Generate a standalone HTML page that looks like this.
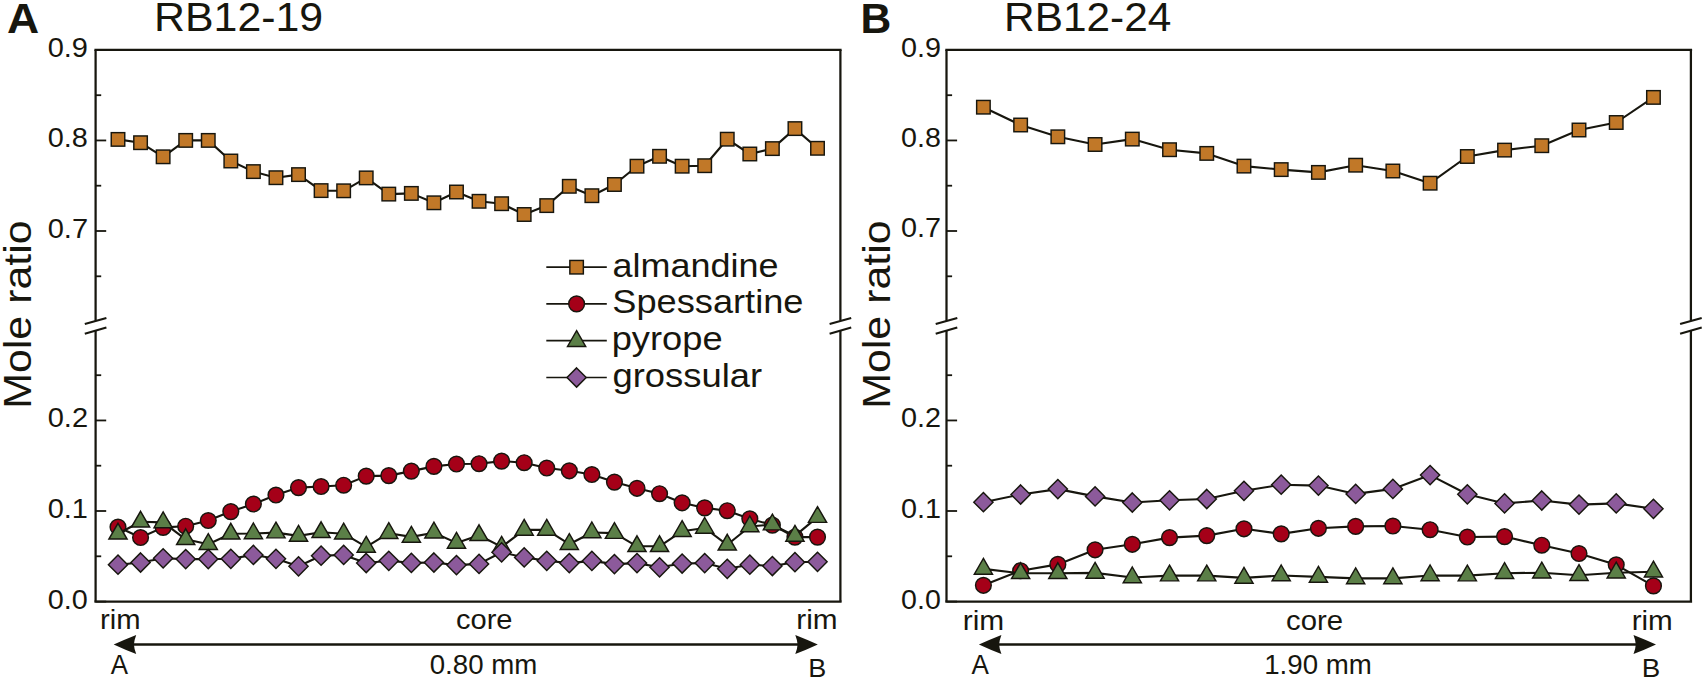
<!DOCTYPE html>
<html lang="en"><head><meta charset="utf-8"><title>Garnet compositional profiles</title>
<style>html,body{margin:0;padding:0;background:#fff}body{width:1705px;height:679px;overflow:hidden}svg{display:block}</style>
</head><body>
<svg width="1705" height="679" viewBox="0 0 1705 679" font-family="'Liberation Sans', sans-serif" fill="#17160e">
<rect width="1705" height="679" fill="#fff"/>
<g stroke="#17160e" stroke-width="2.25" fill="none">
<path d="M94.39999999999999,49.9 H841.6"/>
<path d="M94.39999999999999,601.6 H841.6"/>
<path d="M95.6,49.9 V320.8"/>
<path d="M95.6,330.7 V601.6"/>
<path d="M840.4,49.9 V320.8"/>
<path d="M840.4,330.7 V601.6"/>
</g>
<g stroke="#17160e" stroke-width="2.1" fill="none">
<path d="M84.8,324.1 L106.39999999999999,317.9"/>
<path d="M84.8,333.70000000000005 L106.39999999999999,327.5"/>
<path d="M829.6,324.1 L851.1999999999999,317.9"/>
<path d="M829.6,333.70000000000005 L851.1999999999999,327.5"/>
</g>
<g stroke="#17160e" stroke-width="1.8" fill="none">
<path d="M95.6,49.9 h10.6"/>
<path d="M95.6,140.45 h10.6"/>
<path d="M95.6,231.0 h10.6"/>
<path d="M95.6,420.45 h10.6"/>
<path d="M95.6,511.0 h10.6"/>
<path d="M95.6,601.6 h10.6"/>
<path d="M95.6,95.2 h5.6"/>
<path d="M95.6,185.7 h5.6"/>
<path d="M95.6,276.3 h5.6"/>
<path d="M95.6,375.2 h5.6"/>
<path d="M95.6,465.7 h5.6"/>
<path d="M95.6,556.3 h5.6"/>
</g>
<text transform="translate(47.67,56.80) scale(1.0318,1)" font-size="28.1">0.9</text>
<text transform="translate(47.67,147.35) scale(1.0287,1)" font-size="28.1">0.8</text>
<text transform="translate(47.66,238.00) scale(1.0341,1)" font-size="28.1">0.7</text>
<text transform="translate(47.66,427.35) scale(1.0341,1)" font-size="28.1">0.2</text>
<text transform="translate(47.67,517.90) scale(1.0330,1)" font-size="28.1">0.1</text>
<text transform="translate(47.67,608.60) scale(1.0253,1)" font-size="28.1">0.0</text>
<polyline points="118.00,139.40 140.56,142.70 163.13,156.80 185.69,140.40 208.26,140.40 230.82,161.00 253.39,171.60 275.96,177.70 298.52,174.60 321.09,190.60 343.65,190.80 366.22,177.90 388.78,194.10 411.35,193.40 433.91,202.80 456.48,192.00 479.04,201.30 501.61,203.70 524.17,214.50 546.74,205.60 569.30,186.30 591.87,195.70 614.43,184.50 637.00,166.20 659.56,156.30 682.12,166.20 704.69,165.70 727.25,139.20 749.82,154.00 772.38,148.60 794.95,128.60 817.51,148.30" fill="none" stroke="#17160e" stroke-width="2.1" stroke-linejoin="round"/>
<rect x="111.25" y="132.65" width="13.5" height="13.5" fill="#c17828" stroke="#17160e" stroke-width="1.45"/>
<rect x="133.81" y="135.95" width="13.5" height="13.5" fill="#c17828" stroke="#17160e" stroke-width="1.45"/>
<rect x="156.38" y="150.05" width="13.5" height="13.5" fill="#c17828" stroke="#17160e" stroke-width="1.45"/>
<rect x="178.94" y="133.65" width="13.5" height="13.5" fill="#c17828" stroke="#17160e" stroke-width="1.45"/>
<rect x="201.51" y="133.65" width="13.5" height="13.5" fill="#c17828" stroke="#17160e" stroke-width="1.45"/>
<rect x="224.07" y="154.25" width="13.5" height="13.5" fill="#c17828" stroke="#17160e" stroke-width="1.45"/>
<rect x="246.64" y="164.85" width="13.5" height="13.5" fill="#c17828" stroke="#17160e" stroke-width="1.45"/>
<rect x="269.21" y="170.95" width="13.5" height="13.5" fill="#c17828" stroke="#17160e" stroke-width="1.45"/>
<rect x="291.77" y="167.85" width="13.5" height="13.5" fill="#c17828" stroke="#17160e" stroke-width="1.45"/>
<rect x="314.34" y="183.85" width="13.5" height="13.5" fill="#c17828" stroke="#17160e" stroke-width="1.45"/>
<rect x="336.90" y="184.05" width="13.5" height="13.5" fill="#c17828" stroke="#17160e" stroke-width="1.45"/>
<rect x="359.47" y="171.15" width="13.5" height="13.5" fill="#c17828" stroke="#17160e" stroke-width="1.45"/>
<rect x="382.03" y="187.35" width="13.5" height="13.5" fill="#c17828" stroke="#17160e" stroke-width="1.45"/>
<rect x="404.60" y="186.65" width="13.5" height="13.5" fill="#c17828" stroke="#17160e" stroke-width="1.45"/>
<rect x="427.16" y="196.05" width="13.5" height="13.5" fill="#c17828" stroke="#17160e" stroke-width="1.45"/>
<rect x="449.73" y="185.25" width="13.5" height="13.5" fill="#c17828" stroke="#17160e" stroke-width="1.45"/>
<rect x="472.29" y="194.55" width="13.5" height="13.5" fill="#c17828" stroke="#17160e" stroke-width="1.45"/>
<rect x="494.86" y="196.95" width="13.5" height="13.5" fill="#c17828" stroke="#17160e" stroke-width="1.45"/>
<rect x="517.42" y="207.75" width="13.5" height="13.5" fill="#c17828" stroke="#17160e" stroke-width="1.45"/>
<rect x="539.99" y="198.85" width="13.5" height="13.5" fill="#c17828" stroke="#17160e" stroke-width="1.45"/>
<rect x="562.55" y="179.55" width="13.5" height="13.5" fill="#c17828" stroke="#17160e" stroke-width="1.45"/>
<rect x="585.12" y="188.95" width="13.5" height="13.5" fill="#c17828" stroke="#17160e" stroke-width="1.45"/>
<rect x="607.68" y="177.75" width="13.5" height="13.5" fill="#c17828" stroke="#17160e" stroke-width="1.45"/>
<rect x="630.25" y="159.45" width="13.5" height="13.5" fill="#c17828" stroke="#17160e" stroke-width="1.45"/>
<rect x="652.81" y="149.55" width="13.5" height="13.5" fill="#c17828" stroke="#17160e" stroke-width="1.45"/>
<rect x="675.38" y="159.45" width="13.5" height="13.5" fill="#c17828" stroke="#17160e" stroke-width="1.45"/>
<rect x="697.94" y="158.95" width="13.5" height="13.5" fill="#c17828" stroke="#17160e" stroke-width="1.45"/>
<rect x="720.50" y="132.45" width="13.5" height="13.5" fill="#c17828" stroke="#17160e" stroke-width="1.45"/>
<rect x="743.07" y="147.25" width="13.5" height="13.5" fill="#c17828" stroke="#17160e" stroke-width="1.45"/>
<rect x="765.63" y="141.85" width="13.5" height="13.5" fill="#c17828" stroke="#17160e" stroke-width="1.45"/>
<rect x="788.20" y="121.85" width="13.5" height="13.5" fill="#c17828" stroke="#17160e" stroke-width="1.45"/>
<rect x="810.76" y="141.55" width="13.5" height="13.5" fill="#c17828" stroke="#17160e" stroke-width="1.45"/>
<polyline points="118.00,527.00 140.56,537.50 163.13,527.40 185.69,526.20 208.26,520.50 230.82,511.60 253.39,504.00 275.96,495.00 298.52,487.60 321.09,486.50 343.65,485.20 366.22,476.10 388.78,475.60 411.35,471.10 433.91,466.40 456.48,464.00 479.04,463.70 501.61,461.10 524.17,462.70 546.74,468.00 569.30,470.80 591.87,474.50 614.43,482.10 637.00,488.30 659.56,493.70 682.12,502.80 704.69,507.90 727.25,510.70 749.82,518.80 772.38,525.10 794.95,537.10 817.51,537.10" fill="none" stroke="#17160e" stroke-width="2.1" stroke-linejoin="round"/>
<circle cx="118.00" cy="527.00" r="7.85" fill="#a50018" stroke="#17160e" stroke-width="1.45"/>
<circle cx="140.56" cy="537.50" r="7.85" fill="#a50018" stroke="#17160e" stroke-width="1.45"/>
<circle cx="163.13" cy="527.40" r="7.85" fill="#a50018" stroke="#17160e" stroke-width="1.45"/>
<circle cx="185.69" cy="526.20" r="7.85" fill="#a50018" stroke="#17160e" stroke-width="1.45"/>
<circle cx="208.26" cy="520.50" r="7.85" fill="#a50018" stroke="#17160e" stroke-width="1.45"/>
<circle cx="230.82" cy="511.60" r="7.85" fill="#a50018" stroke="#17160e" stroke-width="1.45"/>
<circle cx="253.39" cy="504.00" r="7.85" fill="#a50018" stroke="#17160e" stroke-width="1.45"/>
<circle cx="275.96" cy="495.00" r="7.85" fill="#a50018" stroke="#17160e" stroke-width="1.45"/>
<circle cx="298.52" cy="487.60" r="7.85" fill="#a50018" stroke="#17160e" stroke-width="1.45"/>
<circle cx="321.09" cy="486.50" r="7.85" fill="#a50018" stroke="#17160e" stroke-width="1.45"/>
<circle cx="343.65" cy="485.20" r="7.85" fill="#a50018" stroke="#17160e" stroke-width="1.45"/>
<circle cx="366.22" cy="476.10" r="7.85" fill="#a50018" stroke="#17160e" stroke-width="1.45"/>
<circle cx="388.78" cy="475.60" r="7.85" fill="#a50018" stroke="#17160e" stroke-width="1.45"/>
<circle cx="411.35" cy="471.10" r="7.85" fill="#a50018" stroke="#17160e" stroke-width="1.45"/>
<circle cx="433.91" cy="466.40" r="7.85" fill="#a50018" stroke="#17160e" stroke-width="1.45"/>
<circle cx="456.48" cy="464.00" r="7.85" fill="#a50018" stroke="#17160e" stroke-width="1.45"/>
<circle cx="479.04" cy="463.70" r="7.85" fill="#a50018" stroke="#17160e" stroke-width="1.45"/>
<circle cx="501.61" cy="461.10" r="7.85" fill="#a50018" stroke="#17160e" stroke-width="1.45"/>
<circle cx="524.17" cy="462.70" r="7.85" fill="#a50018" stroke="#17160e" stroke-width="1.45"/>
<circle cx="546.74" cy="468.00" r="7.85" fill="#a50018" stroke="#17160e" stroke-width="1.45"/>
<circle cx="569.30" cy="470.80" r="7.85" fill="#a50018" stroke="#17160e" stroke-width="1.45"/>
<circle cx="591.87" cy="474.50" r="7.85" fill="#a50018" stroke="#17160e" stroke-width="1.45"/>
<circle cx="614.43" cy="482.10" r="7.85" fill="#a50018" stroke="#17160e" stroke-width="1.45"/>
<circle cx="637.00" cy="488.30" r="7.85" fill="#a50018" stroke="#17160e" stroke-width="1.45"/>
<circle cx="659.56" cy="493.70" r="7.85" fill="#a50018" stroke="#17160e" stroke-width="1.45"/>
<circle cx="682.12" cy="502.80" r="7.85" fill="#a50018" stroke="#17160e" stroke-width="1.45"/>
<circle cx="704.69" cy="507.90" r="7.85" fill="#a50018" stroke="#17160e" stroke-width="1.45"/>
<circle cx="727.25" cy="510.70" r="7.85" fill="#a50018" stroke="#17160e" stroke-width="1.45"/>
<circle cx="749.82" cy="518.80" r="7.85" fill="#a50018" stroke="#17160e" stroke-width="1.45"/>
<circle cx="772.38" cy="525.10" r="7.85" fill="#a50018" stroke="#17160e" stroke-width="1.45"/>
<circle cx="794.95" cy="537.10" r="7.85" fill="#a50018" stroke="#17160e" stroke-width="1.45"/>
<circle cx="817.51" cy="537.10" r="7.85" fill="#a50018" stroke="#17160e" stroke-width="1.45"/>
<polyline points="118.00,533.80 140.56,521.80 163.13,522.40 185.69,539.30 208.26,544.20 230.82,533.80 253.39,533.50 275.96,532.60 298.52,535.90 321.09,532.30 343.65,533.70 366.22,546.90 388.78,533.20 411.35,536.90 433.91,532.70 456.48,542.90 479.04,535.30 501.61,546.90 524.17,529.90 546.74,529.90 569.30,544.20 591.87,532.50 614.43,533.10 637.00,546.30 659.56,546.30 682.12,531.20 704.69,528.00 727.25,544.80 749.82,526.50 772.38,524.60 794.95,535.90 817.51,517.10" fill="none" stroke="#17160e" stroke-width="2.1" stroke-linejoin="round"/>
<polygon points="118.00,523.30 127.09,539.05 108.91,539.05" fill="#5b7f47" stroke="#17160e" stroke-width="1.45"/>
<polygon points="140.56,511.30 149.66,527.05 131.47,527.05" fill="#5b7f47" stroke="#17160e" stroke-width="1.45"/>
<polygon points="163.13,511.90 172.22,527.65 154.04,527.65" fill="#5b7f47" stroke="#17160e" stroke-width="1.45"/>
<polygon points="185.69,528.80 194.79,544.55 176.60,544.55" fill="#5b7f47" stroke="#17160e" stroke-width="1.45"/>
<polygon points="208.26,533.70 217.35,549.45 199.17,549.45" fill="#5b7f47" stroke="#17160e" stroke-width="1.45"/>
<polygon points="230.82,523.30 239.92,539.05 221.73,539.05" fill="#5b7f47" stroke="#17160e" stroke-width="1.45"/>
<polygon points="253.39,523.00 262.48,538.75 244.30,538.75" fill="#5b7f47" stroke="#17160e" stroke-width="1.45"/>
<polygon points="275.96,522.10 285.05,537.85 266.86,537.85" fill="#5b7f47" stroke="#17160e" stroke-width="1.45"/>
<polygon points="298.52,525.40 307.61,541.15 289.43,541.15" fill="#5b7f47" stroke="#17160e" stroke-width="1.45"/>
<polygon points="321.09,521.80 330.18,537.55 311.99,537.55" fill="#5b7f47" stroke="#17160e" stroke-width="1.45"/>
<polygon points="343.65,523.20 352.74,538.95 334.56,538.95" fill="#5b7f47" stroke="#17160e" stroke-width="1.45"/>
<polygon points="366.22,536.40 375.31,552.15 357.12,552.15" fill="#5b7f47" stroke="#17160e" stroke-width="1.45"/>
<polygon points="388.78,522.70 397.87,538.45 379.69,538.45" fill="#5b7f47" stroke="#17160e" stroke-width="1.45"/>
<polygon points="411.35,526.40 420.44,542.15 402.25,542.15" fill="#5b7f47" stroke="#17160e" stroke-width="1.45"/>
<polygon points="433.91,522.20 443.00,537.95 424.82,537.95" fill="#5b7f47" stroke="#17160e" stroke-width="1.45"/>
<polygon points="456.48,532.40 465.57,548.15 447.38,548.15" fill="#5b7f47" stroke="#17160e" stroke-width="1.45"/>
<polygon points="479.04,524.80 488.13,540.55 469.95,540.55" fill="#5b7f47" stroke="#17160e" stroke-width="1.45"/>
<polygon points="501.61,536.40 510.70,552.15 492.51,552.15" fill="#5b7f47" stroke="#17160e" stroke-width="1.45"/>
<polygon points="524.17,519.40 533.26,535.15 515.08,535.15" fill="#5b7f47" stroke="#17160e" stroke-width="1.45"/>
<polygon points="546.74,519.40 555.83,535.15 537.64,535.15" fill="#5b7f47" stroke="#17160e" stroke-width="1.45"/>
<polygon points="569.30,533.70 578.39,549.45 560.21,549.45" fill="#5b7f47" stroke="#17160e" stroke-width="1.45"/>
<polygon points="591.87,522.00 600.96,537.75 582.77,537.75" fill="#5b7f47" stroke="#17160e" stroke-width="1.45"/>
<polygon points="614.43,522.60 623.52,538.35 605.34,538.35" fill="#5b7f47" stroke="#17160e" stroke-width="1.45"/>
<polygon points="637.00,535.80 646.09,551.55 627.90,551.55" fill="#5b7f47" stroke="#17160e" stroke-width="1.45"/>
<polygon points="659.56,535.80 668.65,551.55 650.47,551.55" fill="#5b7f47" stroke="#17160e" stroke-width="1.45"/>
<polygon points="682.12,520.70 691.22,536.45 673.03,536.45" fill="#5b7f47" stroke="#17160e" stroke-width="1.45"/>
<polygon points="704.69,517.50 713.78,533.25 695.60,533.25" fill="#5b7f47" stroke="#17160e" stroke-width="1.45"/>
<polygon points="727.25,534.30 736.35,550.05 718.16,550.05" fill="#5b7f47" stroke="#17160e" stroke-width="1.45"/>
<polygon points="749.82,516.00 758.91,531.75 740.73,531.75" fill="#5b7f47" stroke="#17160e" stroke-width="1.45"/>
<polygon points="772.38,514.10 781.48,529.85 763.29,529.85" fill="#5b7f47" stroke="#17160e" stroke-width="1.45"/>
<polygon points="794.95,525.40 804.04,541.15 785.86,541.15" fill="#5b7f47" stroke="#17160e" stroke-width="1.45"/>
<polygon points="817.51,506.60 826.61,522.35 808.42,522.35" fill="#5b7f47" stroke="#17160e" stroke-width="1.45"/>
<polyline points="118.00,564.70 140.56,562.50 163.13,558.30 185.69,559.10 208.26,559.10 230.82,558.80 253.39,554.90 275.96,558.80 298.52,566.30 321.09,555.70 343.65,554.90 366.22,563.00 388.78,560.80 411.35,562.90 433.91,562.50 456.48,565.10 479.04,563.90 501.61,552.30 524.17,557.40 546.74,560.80 569.30,563.10 591.87,560.90 614.43,564.10 637.00,563.10 659.56,567.30 682.12,563.50 704.69,563.10 727.25,568.80 749.82,564.70 772.38,566.00 794.95,562.20 817.51,561.80" fill="none" stroke="#17160e" stroke-width="2.1" stroke-linejoin="round"/>
<polygon points="118.00,555.10 127.60,564.70 118.00,574.30 108.40,564.70" fill="#8c5a9b" stroke="#17160e" stroke-width="1.45"/>
<polygon points="140.56,552.90 150.16,562.50 140.56,572.10 130.97,562.50" fill="#8c5a9b" stroke="#17160e" stroke-width="1.45"/>
<polygon points="163.13,548.70 172.73,558.30 163.13,567.90 153.53,558.30" fill="#8c5a9b" stroke="#17160e" stroke-width="1.45"/>
<polygon points="185.69,549.50 195.29,559.10 185.69,568.70 176.09,559.10" fill="#8c5a9b" stroke="#17160e" stroke-width="1.45"/>
<polygon points="208.26,549.50 217.86,559.10 208.26,568.70 198.66,559.10" fill="#8c5a9b" stroke="#17160e" stroke-width="1.45"/>
<polygon points="230.82,549.20 240.42,558.80 230.82,568.40 221.22,558.80" fill="#8c5a9b" stroke="#17160e" stroke-width="1.45"/>
<polygon points="253.39,545.30 262.99,554.90 253.39,564.50 243.79,554.90" fill="#8c5a9b" stroke="#17160e" stroke-width="1.45"/>
<polygon points="275.96,549.20 285.56,558.80 275.96,568.40 266.36,558.80" fill="#8c5a9b" stroke="#17160e" stroke-width="1.45"/>
<polygon points="298.52,556.70 308.12,566.30 298.52,575.90 288.92,566.30" fill="#8c5a9b" stroke="#17160e" stroke-width="1.45"/>
<polygon points="321.09,546.10 330.69,555.70 321.09,565.30 311.49,555.70" fill="#8c5a9b" stroke="#17160e" stroke-width="1.45"/>
<polygon points="343.65,545.30 353.25,554.90 343.65,564.50 334.05,554.90" fill="#8c5a9b" stroke="#17160e" stroke-width="1.45"/>
<polygon points="366.22,553.40 375.82,563.00 366.22,572.60 356.62,563.00" fill="#8c5a9b" stroke="#17160e" stroke-width="1.45"/>
<polygon points="388.78,551.20 398.38,560.80 388.78,570.40 379.18,560.80" fill="#8c5a9b" stroke="#17160e" stroke-width="1.45"/>
<polygon points="411.35,553.30 420.95,562.90 411.35,572.50 401.75,562.90" fill="#8c5a9b" stroke="#17160e" stroke-width="1.45"/>
<polygon points="433.91,552.90 443.51,562.50 433.91,572.10 424.31,562.50" fill="#8c5a9b" stroke="#17160e" stroke-width="1.45"/>
<polygon points="456.48,555.50 466.08,565.10 456.48,574.70 446.88,565.10" fill="#8c5a9b" stroke="#17160e" stroke-width="1.45"/>
<polygon points="479.04,554.30 488.64,563.90 479.04,573.50 469.44,563.90" fill="#8c5a9b" stroke="#17160e" stroke-width="1.45"/>
<polygon points="501.61,542.70 511.21,552.30 501.61,561.90 492.00,552.30" fill="#8c5a9b" stroke="#17160e" stroke-width="1.45"/>
<polygon points="524.17,547.80 533.77,557.40 524.17,567.00 514.57,557.40" fill="#8c5a9b" stroke="#17160e" stroke-width="1.45"/>
<polygon points="546.74,551.20 556.34,560.80 546.74,570.40 537.13,560.80" fill="#8c5a9b" stroke="#17160e" stroke-width="1.45"/>
<polygon points="569.30,553.50 578.90,563.10 569.30,572.70 559.70,563.10" fill="#8c5a9b" stroke="#17160e" stroke-width="1.45"/>
<polygon points="591.87,551.30 601.47,560.90 591.87,570.50 582.26,560.90" fill="#8c5a9b" stroke="#17160e" stroke-width="1.45"/>
<polygon points="614.43,554.50 624.03,564.10 614.43,573.70 604.83,564.10" fill="#8c5a9b" stroke="#17160e" stroke-width="1.45"/>
<polygon points="637.00,553.50 646.60,563.10 637.00,572.70 627.39,563.10" fill="#8c5a9b" stroke="#17160e" stroke-width="1.45"/>
<polygon points="659.56,557.70 669.16,567.30 659.56,576.90 649.96,567.30" fill="#8c5a9b" stroke="#17160e" stroke-width="1.45"/>
<polygon points="682.12,553.90 691.73,563.50 682.12,573.10 672.52,563.50" fill="#8c5a9b" stroke="#17160e" stroke-width="1.45"/>
<polygon points="704.69,553.50 714.29,563.10 704.69,572.70 695.09,563.10" fill="#8c5a9b" stroke="#17160e" stroke-width="1.45"/>
<polygon points="727.25,559.20 736.86,568.80 727.25,578.40 717.65,568.80" fill="#8c5a9b" stroke="#17160e" stroke-width="1.45"/>
<polygon points="749.82,555.10 759.42,564.70 749.82,574.30 740.22,564.70" fill="#8c5a9b" stroke="#17160e" stroke-width="1.45"/>
<polygon points="772.38,556.40 781.99,566.00 772.38,575.60 762.78,566.00" fill="#8c5a9b" stroke="#17160e" stroke-width="1.45"/>
<polygon points="794.95,552.60 804.55,562.20 794.95,571.80 785.35,562.20" fill="#8c5a9b" stroke="#17160e" stroke-width="1.45"/>
<polygon points="817.51,552.20 827.12,561.80 817.51,571.40 807.91,561.80" fill="#8c5a9b" stroke="#17160e" stroke-width="1.45"/>
<path d="M546.3,267.2 H606.8" stroke="#17160e" stroke-width="1.7" fill="none"/>
<rect x="569.85" y="260.45" width="13.5" height="13.5" fill="#c17828" stroke="#17160e" stroke-width="1.45"/>
<text transform="translate(612.47,276.60) scale(1.0734,1)" font-size="33.5">almandine</text>
<path d="M546.3,303.9 H606.8" stroke="#17160e" stroke-width="1.7" fill="none"/>
<circle cx="576.60" cy="303.90" r="7.85" fill="#a50018" stroke="#17160e" stroke-width="1.45"/>
<text transform="translate(612.36,312.70) scale(1.0805,1)" font-size="33.5">Spessartine</text>
<path d="M546.3,340.7 H606.8" stroke="#17160e" stroke-width="1.7" fill="none"/>
<polygon points="576.60,330.70 585.69,346.45 567.51,346.45" fill="#5b7f47" stroke="#17160e" stroke-width="1.45"/>
<text transform="translate(611.66,350.30) scale(1.0832,1)" font-size="33.5">pyrope</text>
<path d="M546.3,377.5 H606.8" stroke="#17160e" stroke-width="1.7" fill="none"/>
<polygon points="576.60,367.90 586.20,377.50 576.60,387.10 567.00,377.50" fill="#8c5a9b" stroke="#17160e" stroke-width="1.45"/>
<text transform="translate(612.47,387.40) scale(1.0860,1)" font-size="33.5">grossular</text>
<path d="M121.7,644.5 H809.8" stroke="#17160e" stroke-width="2.5" fill="none"/>
<path d="M113.7,644.5 Q125.2,639.2 136.2,634.9 Q134.1,640.5 133.9,644.5 Q134.1,648.5 136.2,654.1 Q125.2,649.8 113.7,644.5 Z" fill="#17160e"/>
<path d="M817.8,644.5 Q806.3,639.2 795.3,634.9 Q797.4,640.5 797.5999999999999,644.5 Q797.4,648.5 795.3,654.1 Q806.3,649.8 817.8,644.5 Z" fill="#17160e"/>
<text transform="translate(100.06,628.70) scale(1.0904,1)" font-size="26.8">rim</text>
<text transform="translate(796.22,628.70) scale(1.1112,1)" font-size="26.8">rim</text>
<text transform="translate(455.96,628.70) scale(1.0663,1)" font-size="27.3">core</text>
<text transform="translate(429.72,673.60) scale(1.0095,1)" font-size="27.4">0.80 mm</text>
<text transform="translate(110.65,673.50) scale(0.9679,1)" font-size="26.8">A</text>
<text transform="translate(808.18,676.80) scale(1.0171,1)" font-size="26.6">B</text>
<text transform="translate(6.99,33.10) scale(1.0462,1)" font-size="42.6" font-weight="bold">A</text>
<text transform="translate(154.08,31.20) scale(1.0582,1)" font-size="40.5">RB12-19</text>
<text transform="translate(31.40,408.82) rotate(-90) scale(1.0870,1)" font-size="39.5">Mole ratio</text>
<g stroke="#17160e" stroke-width="2.25" fill="none">
<path d="M945.3,49.9 H1692.1000000000001"/>
<path d="M945.3,601.6 H1692.1000000000001"/>
<path d="M946.5,49.9 V320.8"/>
<path d="M946.5,330.7 V601.6"/>
<path d="M1690.9,49.9 V320.8"/>
<path d="M1690.9,330.7 V601.6"/>
</g>
<g stroke="#17160e" stroke-width="2.1" fill="none">
<path d="M935.7,324.1 L957.3,317.9"/>
<path d="M935.7,333.70000000000005 L957.3,327.5"/>
<path d="M1680.1000000000001,324.1 L1701.7,317.9"/>
<path d="M1680.1000000000001,333.70000000000005 L1701.7,327.5"/>
</g>
<g stroke="#17160e" stroke-width="1.8" fill="none">
<path d="M946.5,49.9 h10.6"/>
<path d="M946.5,140.45 h10.6"/>
<path d="M946.5,231.0 h10.6"/>
<path d="M946.5,420.45 h10.6"/>
<path d="M946.5,511.0 h10.6"/>
<path d="M946.5,601.6 h10.6"/>
<path d="M946.5,95.2 h5.6"/>
<path d="M946.5,185.7 h5.6"/>
<path d="M946.5,276.3 h5.6"/>
<path d="M946.5,375.2 h5.6"/>
<path d="M946.5,465.7 h5.6"/>
<path d="M946.5,556.3 h5.6"/>
</g>
<text transform="translate(901.08,56.70) scale(1.0236,1)" font-size="28.1">0.9</text>
<text transform="translate(901.08,147.25) scale(1.0206,1)" font-size="28.1">0.8</text>
<text transform="translate(901.07,237.40) scale(1.0259,1)" font-size="28.1">0.7</text>
<text transform="translate(901.07,427.25) scale(1.0259,1)" font-size="28.1">0.2</text>
<text transform="translate(901.08,517.80) scale(1.0248,1)" font-size="28.1">0.1</text>
<text transform="translate(901.08,608.60) scale(1.0172,1)" font-size="28.1">0.0</text>
<polyline points="983.40,107.20 1020.62,125.00 1057.85,136.80 1095.08,144.50 1132.30,139.10 1169.53,149.70 1206.75,153.40 1243.97,166.10 1281.20,169.60 1318.42,172.40 1355.65,165.20 1392.88,171.00 1430.10,183.20 1467.33,156.50 1504.55,150.10 1541.78,145.70 1579.00,130.00 1616.22,122.50 1653.45,97.40" fill="none" stroke="#17160e" stroke-width="2.1" stroke-linejoin="round"/>
<rect x="976.65" y="100.45" width="13.5" height="13.5" fill="#c17828" stroke="#17160e" stroke-width="1.45"/>
<rect x="1013.88" y="118.25" width="13.5" height="13.5" fill="#c17828" stroke="#17160e" stroke-width="1.45"/>
<rect x="1051.10" y="130.05" width="13.5" height="13.5" fill="#c17828" stroke="#17160e" stroke-width="1.45"/>
<rect x="1088.33" y="137.75" width="13.5" height="13.5" fill="#c17828" stroke="#17160e" stroke-width="1.45"/>
<rect x="1125.55" y="132.35" width="13.5" height="13.5" fill="#c17828" stroke="#17160e" stroke-width="1.45"/>
<rect x="1162.78" y="142.95" width="13.5" height="13.5" fill="#c17828" stroke="#17160e" stroke-width="1.45"/>
<rect x="1200.00" y="146.65" width="13.5" height="13.5" fill="#c17828" stroke="#17160e" stroke-width="1.45"/>
<rect x="1237.22" y="159.35" width="13.5" height="13.5" fill="#c17828" stroke="#17160e" stroke-width="1.45"/>
<rect x="1274.45" y="162.85" width="13.5" height="13.5" fill="#c17828" stroke="#17160e" stroke-width="1.45"/>
<rect x="1311.67" y="165.65" width="13.5" height="13.5" fill="#c17828" stroke="#17160e" stroke-width="1.45"/>
<rect x="1348.90" y="158.45" width="13.5" height="13.5" fill="#c17828" stroke="#17160e" stroke-width="1.45"/>
<rect x="1386.12" y="164.25" width="13.5" height="13.5" fill="#c17828" stroke="#17160e" stroke-width="1.45"/>
<rect x="1423.35" y="176.45" width="13.5" height="13.5" fill="#c17828" stroke="#17160e" stroke-width="1.45"/>
<rect x="1460.58" y="149.75" width="13.5" height="13.5" fill="#c17828" stroke="#17160e" stroke-width="1.45"/>
<rect x="1497.80" y="143.35" width="13.5" height="13.5" fill="#c17828" stroke="#17160e" stroke-width="1.45"/>
<rect x="1535.03" y="138.95" width="13.5" height="13.5" fill="#c17828" stroke="#17160e" stroke-width="1.45"/>
<rect x="1572.25" y="123.25" width="13.5" height="13.5" fill="#c17828" stroke="#17160e" stroke-width="1.45"/>
<rect x="1609.47" y="115.75" width="13.5" height="13.5" fill="#c17828" stroke="#17160e" stroke-width="1.45"/>
<rect x="1646.70" y="90.65" width="13.5" height="13.5" fill="#c17828" stroke="#17160e" stroke-width="1.45"/>
<polyline points="983.40,585.30 1020.62,570.70 1057.85,564.40 1095.08,549.80 1132.30,544.30 1169.53,537.60 1206.75,535.60 1243.97,528.80 1281.20,533.90 1318.42,528.30 1355.65,526.40 1392.88,526.00 1430.10,529.70 1467.33,537.00 1504.55,536.60 1541.78,545.20 1579.00,553.50 1616.22,564.80 1653.45,585.90" fill="none" stroke="#17160e" stroke-width="2.1" stroke-linejoin="round"/>
<circle cx="983.40" cy="585.30" r="7.85" fill="#a50018" stroke="#17160e" stroke-width="1.45"/>
<circle cx="1020.62" cy="570.70" r="7.85" fill="#a50018" stroke="#17160e" stroke-width="1.45"/>
<circle cx="1057.85" cy="564.40" r="7.85" fill="#a50018" stroke="#17160e" stroke-width="1.45"/>
<circle cx="1095.08" cy="549.80" r="7.85" fill="#a50018" stroke="#17160e" stroke-width="1.45"/>
<circle cx="1132.30" cy="544.30" r="7.85" fill="#a50018" stroke="#17160e" stroke-width="1.45"/>
<circle cx="1169.53" cy="537.60" r="7.85" fill="#a50018" stroke="#17160e" stroke-width="1.45"/>
<circle cx="1206.75" cy="535.60" r="7.85" fill="#a50018" stroke="#17160e" stroke-width="1.45"/>
<circle cx="1243.97" cy="528.80" r="7.85" fill="#a50018" stroke="#17160e" stroke-width="1.45"/>
<circle cx="1281.20" cy="533.90" r="7.85" fill="#a50018" stroke="#17160e" stroke-width="1.45"/>
<circle cx="1318.42" cy="528.30" r="7.85" fill="#a50018" stroke="#17160e" stroke-width="1.45"/>
<circle cx="1355.65" cy="526.40" r="7.85" fill="#a50018" stroke="#17160e" stroke-width="1.45"/>
<circle cx="1392.88" cy="526.00" r="7.85" fill="#a50018" stroke="#17160e" stroke-width="1.45"/>
<circle cx="1430.10" cy="529.70" r="7.85" fill="#a50018" stroke="#17160e" stroke-width="1.45"/>
<circle cx="1467.33" cy="537.00" r="7.85" fill="#a50018" stroke="#17160e" stroke-width="1.45"/>
<circle cx="1504.55" cy="536.60" r="7.85" fill="#a50018" stroke="#17160e" stroke-width="1.45"/>
<circle cx="1541.78" cy="545.20" r="7.85" fill="#a50018" stroke="#17160e" stroke-width="1.45"/>
<circle cx="1579.00" cy="553.50" r="7.85" fill="#a50018" stroke="#17160e" stroke-width="1.45"/>
<circle cx="1616.22" cy="564.80" r="7.85" fill="#a50018" stroke="#17160e" stroke-width="1.45"/>
<circle cx="1653.45" cy="585.90" r="7.85" fill="#a50018" stroke="#17160e" stroke-width="1.45"/>
<polyline points="983.40,568.90 1020.62,573.30 1057.85,573.30 1095.08,572.90 1132.30,577.50 1169.53,575.60 1206.75,575.60 1243.97,577.90 1281.20,575.50 1318.42,576.90 1355.65,578.40 1392.88,578.40 1430.10,575.50 1467.33,575.60 1504.55,573.20 1541.78,572.70 1579.00,575.20 1616.22,572.70 1653.45,571.70" fill="none" stroke="#17160e" stroke-width="2.1" stroke-linejoin="round"/>
<polygon points="983.40,558.40 992.49,574.15 974.31,574.15" fill="#5b7f47" stroke="#17160e" stroke-width="1.45"/>
<polygon points="1020.62,562.80 1029.72,578.55 1011.53,578.55" fill="#5b7f47" stroke="#17160e" stroke-width="1.45"/>
<polygon points="1057.85,562.80 1066.94,578.55 1048.76,578.55" fill="#5b7f47" stroke="#17160e" stroke-width="1.45"/>
<polygon points="1095.08,562.40 1104.17,578.15 1085.98,578.15" fill="#5b7f47" stroke="#17160e" stroke-width="1.45"/>
<polygon points="1132.30,567.00 1141.39,582.75 1123.21,582.75" fill="#5b7f47" stroke="#17160e" stroke-width="1.45"/>
<polygon points="1169.53,565.10 1178.62,580.85 1160.43,580.85" fill="#5b7f47" stroke="#17160e" stroke-width="1.45"/>
<polygon points="1206.75,565.10 1215.84,580.85 1197.66,580.85" fill="#5b7f47" stroke="#17160e" stroke-width="1.45"/>
<polygon points="1243.97,567.40 1253.07,583.15 1234.88,583.15" fill="#5b7f47" stroke="#17160e" stroke-width="1.45"/>
<polygon points="1281.20,565.00 1290.29,580.75 1272.11,580.75" fill="#5b7f47" stroke="#17160e" stroke-width="1.45"/>
<polygon points="1318.42,566.40 1327.52,582.15 1309.33,582.15" fill="#5b7f47" stroke="#17160e" stroke-width="1.45"/>
<polygon points="1355.65,567.90 1364.74,583.65 1346.56,583.65" fill="#5b7f47" stroke="#17160e" stroke-width="1.45"/>
<polygon points="1392.88,567.90 1401.97,583.65 1383.78,583.65" fill="#5b7f47" stroke="#17160e" stroke-width="1.45"/>
<polygon points="1430.10,565.00 1439.19,580.75 1421.01,580.75" fill="#5b7f47" stroke="#17160e" stroke-width="1.45"/>
<polygon points="1467.33,565.10 1476.42,580.85 1458.23,580.85" fill="#5b7f47" stroke="#17160e" stroke-width="1.45"/>
<polygon points="1504.55,562.70 1513.64,578.45 1495.46,578.45" fill="#5b7f47" stroke="#17160e" stroke-width="1.45"/>
<polygon points="1541.78,562.20 1550.87,577.95 1532.68,577.95" fill="#5b7f47" stroke="#17160e" stroke-width="1.45"/>
<polygon points="1579.00,564.70 1588.09,580.45 1569.91,580.45" fill="#5b7f47" stroke="#17160e" stroke-width="1.45"/>
<polygon points="1616.22,562.20 1625.32,577.95 1607.13,577.95" fill="#5b7f47" stroke="#17160e" stroke-width="1.45"/>
<polygon points="1653.45,561.20 1662.54,576.95 1644.36,576.95" fill="#5b7f47" stroke="#17160e" stroke-width="1.45"/>
<polyline points="983.40,502.20 1020.62,494.50 1057.85,489.10 1095.08,496.40 1132.30,502.50 1169.53,500.30 1206.75,499.00 1243.97,490.80 1281.20,484.70 1318.42,485.60 1355.65,493.90 1392.88,488.90 1430.10,475.10 1467.33,494.30 1504.55,503.40 1541.78,500.50 1579.00,504.60 1616.22,503.40 1653.45,508.80" fill="none" stroke="#17160e" stroke-width="2.1" stroke-linejoin="round"/>
<polygon points="983.40,492.60 993.00,502.20 983.40,511.80 973.80,502.20" fill="#8c5a9b" stroke="#17160e" stroke-width="1.45"/>
<polygon points="1020.62,484.90 1030.22,494.50 1020.62,504.10 1011.02,494.50" fill="#8c5a9b" stroke="#17160e" stroke-width="1.45"/>
<polygon points="1057.85,479.50 1067.45,489.10 1057.85,498.70 1048.25,489.10" fill="#8c5a9b" stroke="#17160e" stroke-width="1.45"/>
<polygon points="1095.08,486.80 1104.67,496.40 1095.08,506.00 1085.48,496.40" fill="#8c5a9b" stroke="#17160e" stroke-width="1.45"/>
<polygon points="1132.30,492.90 1141.90,502.50 1132.30,512.10 1122.70,502.50" fill="#8c5a9b" stroke="#17160e" stroke-width="1.45"/>
<polygon points="1169.53,490.70 1179.12,500.30 1169.53,509.90 1159.93,500.30" fill="#8c5a9b" stroke="#17160e" stroke-width="1.45"/>
<polygon points="1206.75,489.40 1216.35,499.00 1206.75,508.60 1197.15,499.00" fill="#8c5a9b" stroke="#17160e" stroke-width="1.45"/>
<polygon points="1243.97,481.20 1253.57,490.80 1243.97,500.40 1234.38,490.80" fill="#8c5a9b" stroke="#17160e" stroke-width="1.45"/>
<polygon points="1281.20,475.10 1290.80,484.70 1281.20,494.30 1271.60,484.70" fill="#8c5a9b" stroke="#17160e" stroke-width="1.45"/>
<polygon points="1318.42,476.00 1328.02,485.60 1318.42,495.20 1308.83,485.60" fill="#8c5a9b" stroke="#17160e" stroke-width="1.45"/>
<polygon points="1355.65,484.30 1365.25,493.90 1355.65,503.50 1346.05,493.90" fill="#8c5a9b" stroke="#17160e" stroke-width="1.45"/>
<polygon points="1392.88,479.30 1402.47,488.90 1392.88,498.50 1383.28,488.90" fill="#8c5a9b" stroke="#17160e" stroke-width="1.45"/>
<polygon points="1430.10,465.50 1439.70,475.10 1430.10,484.70 1420.50,475.10" fill="#8c5a9b" stroke="#17160e" stroke-width="1.45"/>
<polygon points="1467.33,484.70 1476.92,494.30 1467.33,503.90 1457.73,494.30" fill="#8c5a9b" stroke="#17160e" stroke-width="1.45"/>
<polygon points="1504.55,493.80 1514.15,503.40 1504.55,513.00 1494.95,503.40" fill="#8c5a9b" stroke="#17160e" stroke-width="1.45"/>
<polygon points="1541.78,490.90 1551.38,500.50 1541.78,510.10 1532.18,500.50" fill="#8c5a9b" stroke="#17160e" stroke-width="1.45"/>
<polygon points="1579.00,495.00 1588.60,504.60 1579.00,514.20 1569.40,504.60" fill="#8c5a9b" stroke="#17160e" stroke-width="1.45"/>
<polygon points="1616.22,493.80 1625.82,503.40 1616.22,513.00 1606.62,503.40" fill="#8c5a9b" stroke="#17160e" stroke-width="1.45"/>
<polygon points="1653.45,499.20 1663.05,508.80 1653.45,518.40 1643.85,508.80" fill="#8c5a9b" stroke="#17160e" stroke-width="1.45"/>
<path d="M986.9,644.5 H1648.0" stroke="#17160e" stroke-width="2.5" fill="none"/>
<path d="M978.9,644.5 Q990.4,639.2 1001.4,634.9 Q999.3,640.5 999.1,644.5 Q999.3,648.5 1001.4,654.1 Q990.4,649.8 978.9,644.5 Z" fill="#17160e"/>
<path d="M1656.0,644.5 Q1644.5,639.2 1633.5,634.9 Q1635.6,640.5 1635.8,644.5 Q1635.6,648.5 1633.5,654.1 Q1644.5,649.8 1656.0,644.5 Z" fill="#17160e"/>
<text transform="translate(962.72,629.80) scale(1.1142,1)" font-size="26.8">rim</text>
<text transform="translate(1631.63,629.80) scale(1.1053,1)" font-size="26.8">rim</text>
<text transform="translate(1286.05,629.80) scale(1.0742,1)" font-size="27.3">core</text>
<text transform="translate(1264.19,673.60) scale(1.0107,1)" font-size="27.4">1.90 mm</text>
<text transform="translate(971.55,673.90) scale(0.9735,1)" font-size="26.8">A</text>
<text transform="translate(1641.82,676.80) scale(1.0454,1)" font-size="26.6">B</text>
<text transform="translate(860.55,33.00) scale(1.0008,1)" font-size="42.6" font-weight="bold">B</text>
<text transform="translate(1004.12,31.20) scale(1.0461,1)" font-size="40.5">RB12-24</text>
<text transform="translate(889.90,408.82) rotate(-90) scale(1.0870,1)" font-size="39.5">Mole ratio</text>
</svg>
</body></html>
